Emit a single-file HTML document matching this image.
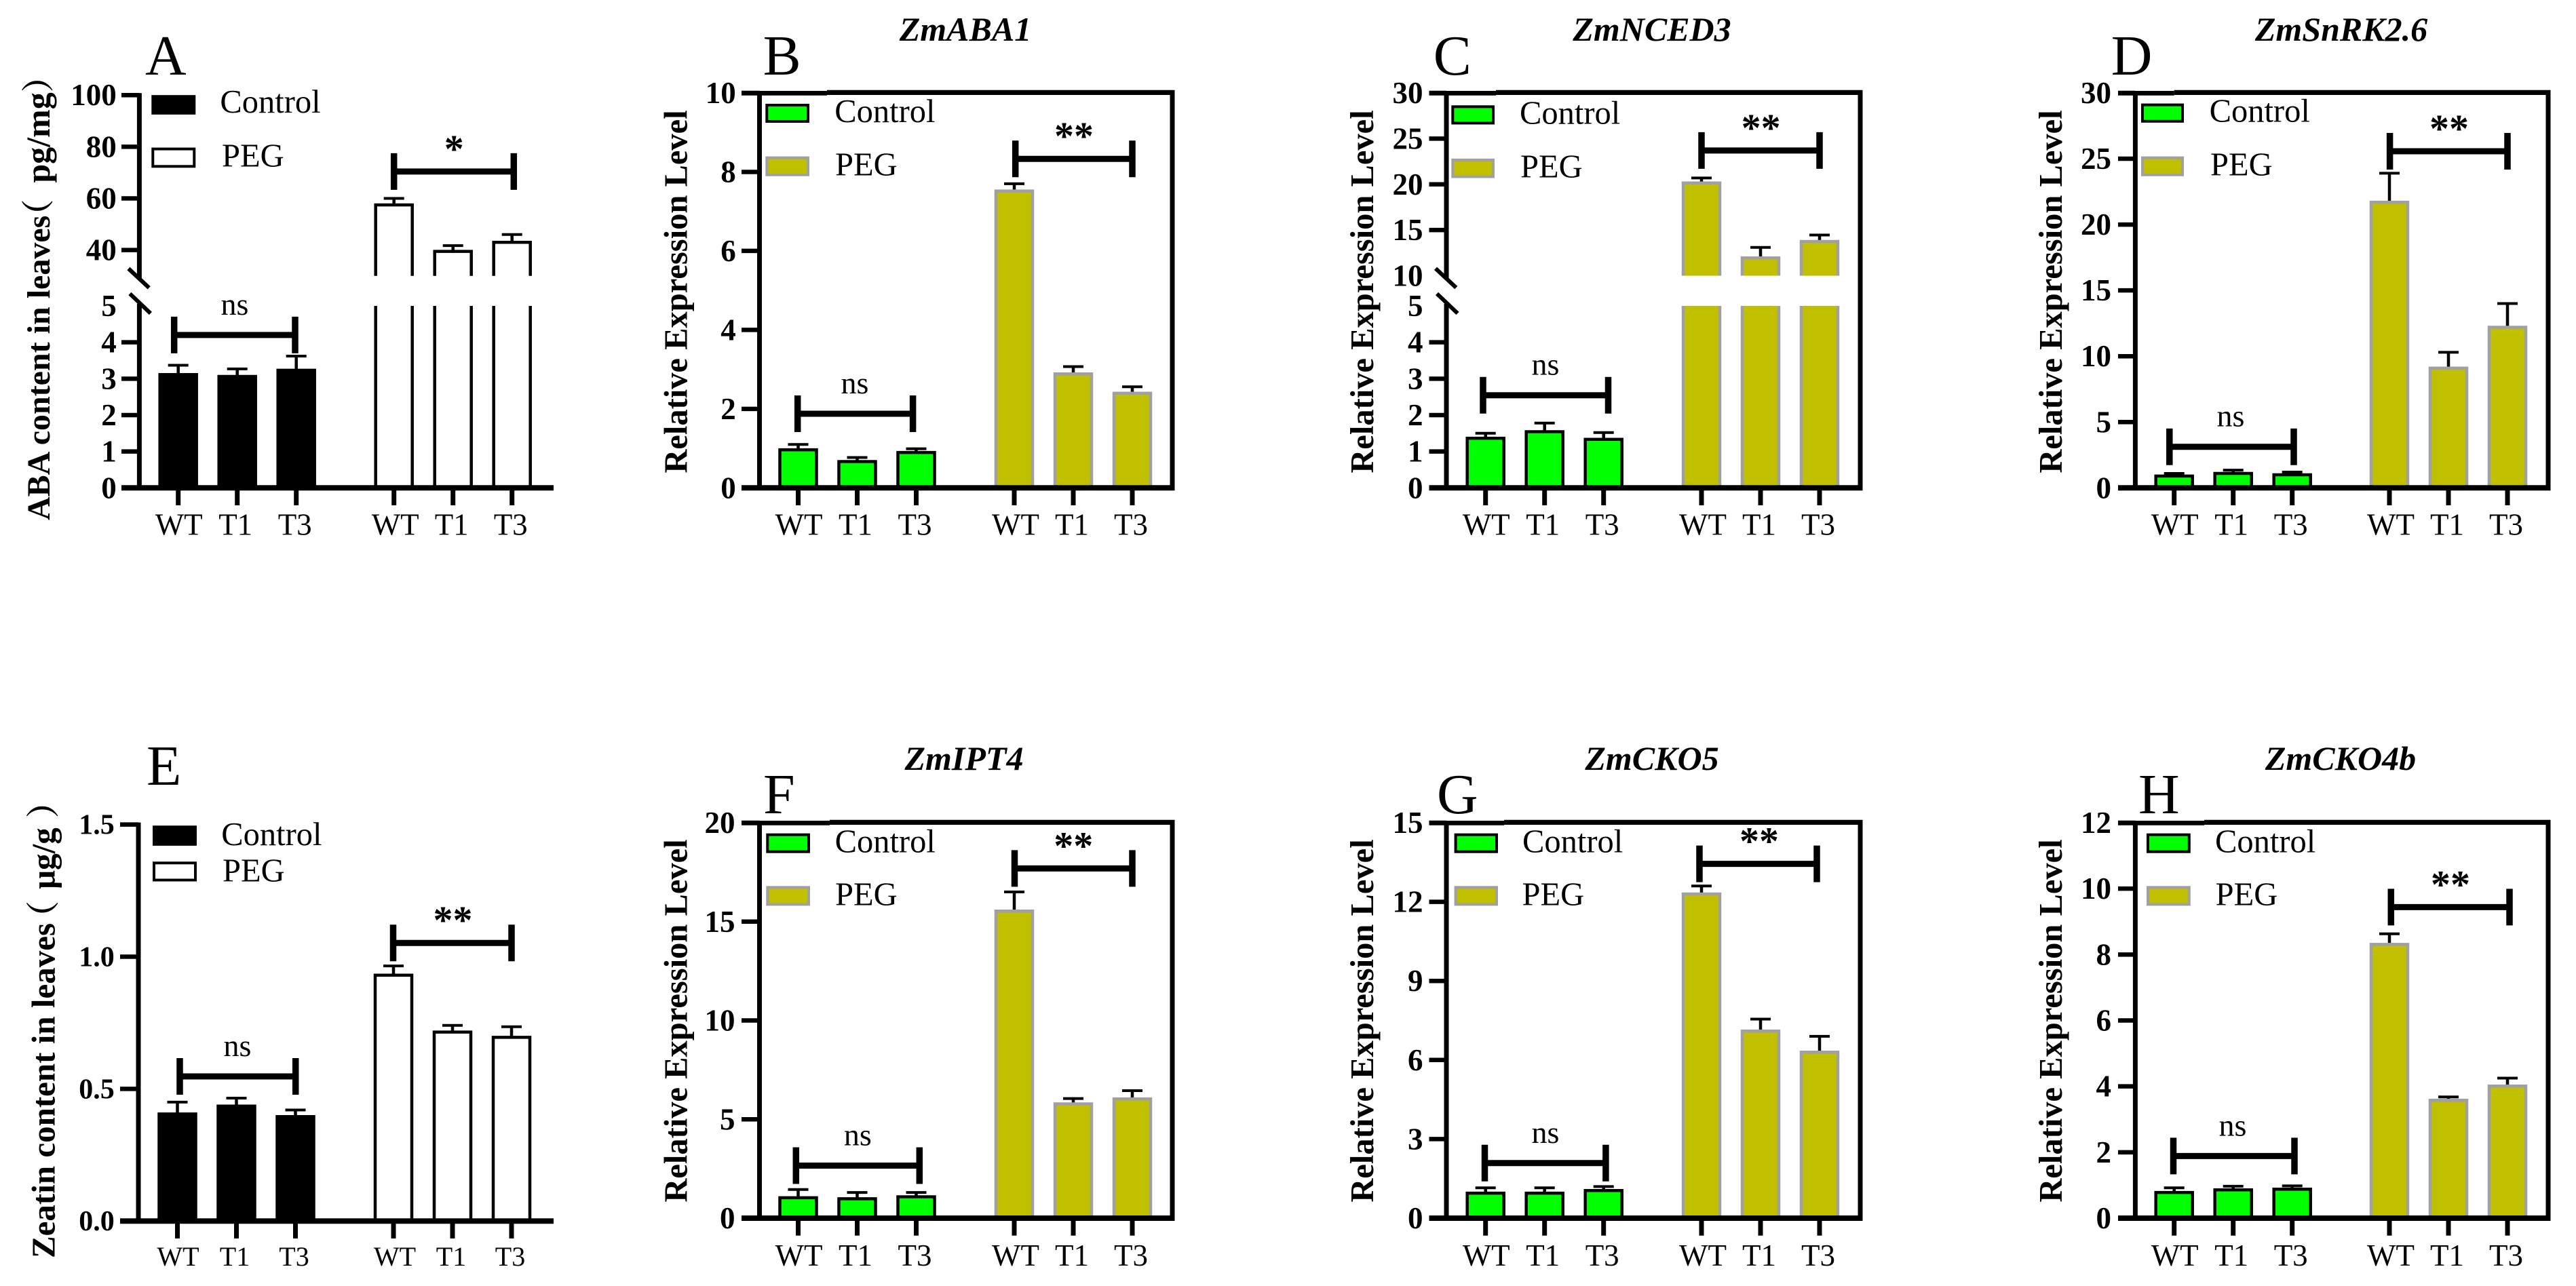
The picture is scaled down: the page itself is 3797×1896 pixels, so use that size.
<!DOCTYPE html>
<html lang="en">
<head>
<meta charset="utf-8">
<title>ABA and zeatin content and gene expression under PEG</title>
<style>
html,body{margin:0;padding:0;background:#fff;}
svg{display:block;}
text{font-family:"Liberation Serif","Noto Serif CJK SC",serif;fill:#000;}
.panel-letter{font-size:84px;}
.gene-title{font-size:50px;font-weight:bold;font-style:italic;text-anchor:middle;}
.y-title{font-size:48.5px;font-weight:bold;text-anchor:middle;}
.y-title-long{font-weight:bold;text-anchor:start;}
.legend-text{font-size:48.5px;}
</style>
</head>
<body>
<svg id="figure" xmlns="http://www.w3.org/2000/svg" width="3797" height="1896" viewBox="0 0 3797 1896">
<rect x="0" y="0" width="3797" height="1896" fill="#fff"/>

<g id="panel-a">
  <text class="panel-letter" x="214" y="110">A</text>
  <text class="y-title-long" font-size="48" transform="translate(72.8,767) rotate(-90)">ABA content in leaves<tspan dx="-24">（</tspan><tspan dx="12"> </tspan><tspan font-size="50">pg/mg</tspan><tspan>）</tspan></text>
  <rect x="225.3" y="142.2" width="61" height="24.7" fill="#000" stroke="#000" stroke-width="4"/>
  <text class="legend-text" x="324.4" y="166">Control</text>
  <rect x="225.3" y="219.6" width="61" height="25.7" fill="#fff" stroke="#000" stroke-width="4"/>
  <text class="legend-text" x="327" y="245.7">PEG</text>
</g>

<g id="panel-b">
  <text class="gene-title" x="1423" y="60">ZmABA1</text>
  <text class="panel-letter" x="1124.6" y="110">B</text>
  <text class="y-title" transform="translate(1012.5,430) rotate(-90)">Relative Expression Level</text>
  <rect x="1130.3" y="155" width="60.7" height="24" fill="#00ff00" stroke="#000" stroke-width="4"/>
  <text class="legend-text" x="1230.3" y="180">Control</text>
  <rect x="1130.3" y="232.6" width="60.7" height="25.2" fill="#c0c000" stroke="#a0a0a0" stroke-width="4"/>
  <text class="legend-text" x="1231" y="258.7">PEG</text>
</g>

<g id="panel-c">
  <text class="gene-title" x="2435" y="60">ZmNCED3</text>
  <text class="panel-letter" x="2112.7" y="110">C</text>
  <text class="y-title" transform="translate(2024,430) rotate(-90)">Relative Expression Level</text>
  <rect x="2141.3" y="157.3" width="59.7" height="24.2" fill="#00ff00" stroke="#000" stroke-width="4"/>
  <text class="legend-text" x="2240" y="182.4">Control</text>
  <rect x="2141.3" y="235.8" width="59.7" height="24.7" fill="#c0c000" stroke="#a0a0a0" stroke-width="4"/>
  <text class="legend-text" x="2241" y="261.4">PEG</text>
</g>

<g id="panel-d">
  <text class="gene-title" x="3451" y="60">ZmSnRK2.6</text>
  <text class="panel-letter" x="3111.7" y="110">D</text>
  <text class="y-title" transform="translate(3039,430) rotate(-90)">Relative Expression Level</text>
  <rect x="3158" y="154.6" width="59" height="24.2" fill="#00ff00" stroke="#000" stroke-width="4"/>
  <text class="legend-text" x="3256.6" y="179.7">Control</text>
  <rect x="3158" y="232.6" width="59" height="25.2" fill="#c0c000" stroke="#a0a0a0" stroke-width="4"/>
  <text class="legend-text" x="3258" y="258.7">PEG</text>
</g>

<g id="panel-e">
  <text class="panel-letter" x="216" y="1157">E</text>
  <text class="y-title-long" font-size="49" transform="translate(80.7,1855) rotate(-90)">Zeatin content in leaves<tspan dx="-16">（</tspan><tspan dx="5"> </tspan><tspan>μg/g</tspan><tspan dx="14">）</tspan></text>
  <rect x="227" y="1219.2" width="61" height="25.7" fill="#000" stroke="#000" stroke-width="4"/>
  <text class="legend-text" x="326.3" y="1245.8">Control</text>
  <rect x="227" y="1272.3" width="61" height="25.2" fill="#fff" stroke="#000" stroke-width="4"/>
  <text class="legend-text" x="328" y="1299.5">PEG</text>
</g>

<g id="panel-f">
  <text class="gene-title" x="1421" y="1135">ZmIPT4</text>
  <text class="panel-letter" x="1125" y="1199">F</text>
  <text class="y-title" transform="translate(1012.5,1505) rotate(-90)">Relative Expression Level</text>
  <rect x="1131.3" y="1230.7" width="60.7" height="25" fill="#00ff00" stroke="#000" stroke-width="4"/>
  <text class="legend-text" x="1230.6" y="1256.7">Control</text>
  <rect x="1131.3" y="1308.3" width="60.7" height="25.1" fill="#c0c000" stroke="#a0a0a0" stroke-width="4"/>
  <text class="legend-text" x="1231" y="1334.4">PEG</text>
</g>

<g id="panel-g">
  <text class="gene-title" x="2435" y="1135">ZmCKO5</text>
  <text class="panel-letter" x="2118" y="1199">G</text>
  <text class="y-title" transform="translate(2024,1505) rotate(-90)">Relative Expression Level</text>
  <rect x="2145.6" y="1230.7" width="60.4" height="25" fill="#00ff00" stroke="#000" stroke-width="4"/>
  <text class="legend-text" x="2244" y="1256.7">Control</text>
  <rect x="2145.6" y="1308.3" width="60.4" height="25.1" fill="#c0c000" stroke="#a0a0a0" stroke-width="4"/>
  <text class="legend-text" x="2243.5" y="1334.4">PEG</text>
</g>

<g id="panel-h">
  <text class="gene-title" x="3450" y="1135">ZmCKO4b</text>
  <text class="panel-letter" x="3152" y="1199">H</text>
  <text class="y-title" transform="translate(3039,1505) rotate(-90)">Relative Expression Level</text>
  <rect x="3166" y="1230.7" width="60.8" height="25" fill="#00ff00" stroke="#000" stroke-width="4"/>
  <text class="legend-text" x="3265" y="1256.7">Control</text>
  <rect x="3166" y="1308.3" width="60.8" height="25.1" fill="#c0c000" stroke="#a0a0a0" stroke-width="4"/>
  <text class="legend-text" x="3265.6" y="1334.4">PEG</text>
</g>
</svg>

<script>
const categories = ['WT', 'T1', 'T3', 'WT', 'T1', 'T3'];

const abaContent = [3.15, 3.1, 3.27, 58, 40, 43.5];
const abaContentErr = [0.22, 0.17, 0.35, 2, 1.7, 2.5];
const abaLowerTicks = ['0', '1', '2', '3', '4', '5'];
const abaUpperTicks = ['40', '60', '80', '100'];

const zmaba1 = [1.0, 0.7, 0.93, 7.55, 2.92, 2.43];
const zmaba1Err = [0.1, 0.07, 0.06, 0.15, 0.15, 0.13];
const zmaba1Ticks = ['0', '2', '4', '6', '8', '10'];

const zmnced3 = [1.4, 1.58, 1.37, 20.3, 12.1, 13.9];
const zmnced3Err = [0.1, 0.2, 0.15, 0.4, 1, 0.55];
const zmnced3LowerTicks = ['0', '1', '2', '3', '4', '5'];
const zmnced3UpperTicks = ['10', '15', '20', '25', '30'];

const zmsnrk26 = [1.0, 1.2, 1.1, 21.8, 9.2, 12.3];
const zmsnrk26Err = [0.1, 0.15, 0.1, 2.1, 1.1, 1.7];
const zmsnrk26Ticks = ['0', '5', '10', '15', '20', '25', '30'];

const zeatinContent = [0.41, 0.44, 0.40, 0.935, 0.72, 0.70];
const zeatinContentErr = [0.04, 0.025, 0.02, 0.03, 0.02, 0.035];
const zeatinTicks = ['0.0', '0.5', '1.0', '1.5'];

const zmipt4 = [1.1, 1.05, 1.15, 15.6, 5.85, 6.1];
const zmipt4Err = [0.35, 0.25, 0.15, 0.9, 0.2, 0.35];
const zmipt4Ticks = ['0', '5', '10', '15', '20'];

const zmcko5 = [1.0, 1.0, 1.1, 12.35, 7.15, 6.35];
const zmcko5Err = [0.15, 0.15, 0.1, 0.25, 0.4, 0.55];
const zmcko5Ticks = ['0', '3', '6', '9', '12', '15'];

const zmcko4b = [0.82, 0.9, 0.92, 8.35, 3.62, 4.05];
const zmcko4bErr = [0.1, 0.07, 0.06, 0.28, 0.06, 0.2];
const zmcko4bTicks = ['0', '2', '4', '6', '8', '10', '12'];

const SVG_NS = 'http://www.w3.org/2000/svg';

function addLine(parent, name, x1, y1, x2, y2, width) {
  const el = document.createElementNS(SVG_NS, 'line');
  
  
  el.setAttribute('x1', x1);
  el.setAttribute('y1', y1);
  el.setAttribute('x2', x2);
  el.setAttribute('y2', y2);
  el.setAttribute('stroke', '#000');
  el.setAttribute('stroke-width', width);
  parent.appendChild(el);
  return el;
}

function addPath(parent, name, d, fill, stroke, width) {
  const el = document.createElementNS(SVG_NS, 'path');
  
  
  el.setAttribute('d', d);
  el.setAttribute('fill', fill);
  el.setAttribute('stroke', stroke);
  el.setAttribute('stroke-width', width);
  parent.appendChild(el);
  return el;
}

function addText(parent, name, str, x, y, size, weight, anchor) {
  const el = document.createElementNS(SVG_NS, 'text');
  
  
  el.setAttribute('x', x);
  el.setAttribute('y', y);
  el.setAttribute('font-size', size);
  el.setAttribute('font-weight', weight);
  el.setAttribute('text-anchor', anchor);
  el.textContent = str;
  parent.appendChild(el);
  return el;
}

/* y axis function: linear, or two linear pieces when the axis is broken */
function makeYScale(s) {
  if (!s.upper) {
    return function (v) {
      return s.lower.r0 + (v - s.lower.d0) / (s.lower.d1 - s.lower.d0) * (s.lower.r1 - s.lower.r0);
    };
  }
  return function (v) {
    const seg = v <= s.lower.d1 ? s.lower : s.upper;
    return seg.r0 + (v - seg.d0) / (seg.d1 - seg.d0) * (seg.r1 - seg.r0);
  };
}

function drawPanel(p) {
  const g = document.getElementById(p.id);
  const y = makeYScale(p.scale);
  const x = function (i) { return i < 3 ? p.c0 + i * p.step : p.c3 + (i - 3) * p.step; };
  const baseY = p.scale.lower.r0;
  const broken = !!p.scale.upper;
  const topY = broken ? p.scale.upper.r1 : p.scale.lower.r1;
  const halfBar = 27;
  const labelNudge = [1, -2.5, -2, 2, -2, -2];

  /* bars and error bars */
  p.values.forEach(function (v, i) {
    const isControl = i < 3;
    const fill = isControl ? p.controlFill : p.pegFill;
    const stroke = isControl ? p.controlStroke : p.pegStroke;
    const cx = x(i);
    const top = y(v);
    const errY = y(v + p.errors[i]);
    const l = cx - halfBar;
    const r = cx + halfBar;
    addLine(g, 'error-bar-stem-' + categories[i].toLowerCase() + '-' + i, cx, top, cx, errY, 4.5);
    addLine(g, 'error-bar-cap-' + categories[i].toLowerCase() + '-' + i, cx - 15, errY, cx + 15, errY, 4);
    if (broken && v > p.scale.lower.d1) {
      addPath(g, 'bar-upper-' + categories[i].toLowerCase() + '-' + i,
        'M' + l + ' ' + p.scale.upper.r0 + 'L' + l + ' ' + (top + 2) + 'L' + r + ' ' + (top + 2) + 'L' + r + ' ' + p.scale.upper.r0,
        fill, stroke, 4.5);
      addPath(g, 'bar-lower-' + categories[i].toLowerCase() + '-' + i,
        'M' + l + ' ' + p.scale.lower.r1 + 'L' + l + ' ' + baseY + 'L' + r + ' ' + baseY + 'L' + r + ' ' + p.scale.lower.r1,
        fill, stroke, 4.5);
    } else {
      addPath(g, 'bar-' + categories[i].toLowerCase() + '-' + i,
        'M' + l + ' ' + baseY + 'L' + l + ' ' + (top + 2) + 'L' + r + ' ' + (top + 2) + 'L' + r + ' ' + baseY,
        fill, stroke, 4.5);
    }
  });

  /* y axis line(s) */
  if (broken) {
    addLine(g, 'y-axis-line-upper', p.axisX, topY - 3, p.axisX, p.scale.upper.r0 + 4, 7);
    addLine(g, 'y-axis-line-lower', p.axisX, p.scale.lower.r1 - 3, p.axisX, baseY, 7);
    addLine(g, 'y-axis-break-mark-upper', p.axisX - 16, p.scale.upper.r0 - 10.7, p.axisX + 14.3, p.scale.upper.r0 + 17.6, 6);
    addLine(g, 'y-axis-break-mark-lower', p.axisX - 14, p.scale.lower.r1 - 18, p.axisX + 16.5, p.scale.lower.r1 + 11, 6);
  } else {
    addLine(g, 'y-axis-line', p.axisX, topY - 3, p.axisX, baseY, 7);
  }

  /* box frame */
  if (p.boxRight) {
    addLine(g, 'frame-top', p.topSegEnd, topY - 0.6, p.boxRight + 3.5, topY - 0.6, 7.2);
    addLine(g, 'frame-right', p.boxRight, topY, p.boxRight, baseY, 7);
    addLine(g, 'frame-top-left-segment', p.tickLeft, topY + 0.4, p.topSegEnd, topY + 0.4, 6.7);
  }

  /* x axis */
  addLine(g, 'x-axis-line', p.tickLeft, baseY, p.boxRight ? p.boxRight + 3.5 : p.xEnd, baseY, 8);

  /* y ticks and labels */
  function drawTicks(ticks, skipVal) {
    ticks.forEach(function (t) {
      const v = parseFloat(t);
      const ty = y(v);
      if (v !== skipVal) {
        addLine(g, 'y-tick-' + t, p.tickLeft, ty, p.axisX, ty, 6.5);
      }
      addText(g, 'y-tick-label-' + t, t, p.labelRight, ty + p.labelDy, p.tickFont, 'bold', 'end');
    });
  }
  if (broken) {
    drawTicks(p.lowerTicks, p.scale.lower.d1);
    drawTicks(p.upperTicks, p.scale.upper.d0);
  } else {
    drawTicks(p.ticks, null);
  }

  /* x ticks and labels */
  categories.forEach(function (c, i) {
    const cx = x(i);
    addLine(g, 'x-tick-' + c.toLowerCase() + '-' + i, cx, baseY, cx, baseY + 25.7, 7);
    addText(g, 'x-tick-label-' + c.toLowerCase() + '-' + i, c, cx + labelNudge[i], p.xLabelY, p.xFont, 'normal', 'middle');
  });

  /* significance brackets */
  p.brackets.forEach(function (b, i) {
    const by = y(b.value);
    addLine(g, 'significance-bar-' + i, b.x1, by, b.x2, by, 9);
    addLine(g, 'significance-end-left-' + i, b.x1, by - 27, b.x1, by + 27, 9.5);
    addLine(g, 'significance-end-right-' + i, b.x2, by - 27, b.x2, by + 27, 9.5);
    if (b.label === 'ns') {
      addText(g, 'significance-label-ns', 'ns', b.lx, by - 30, 46, 'normal', 'middle');
    } else {
      addText(g, 'significance-label-stars', b.label, b.lx, by - 14, 58, 'bold', 'middle');
    }
  });
}

const TOP_BASE = 719.3;
const LOW_BASE = 1796;
const TOP_MAX = 137;
const LOW_MAX = 1213;
const GREEN = '#00ff00';
const OLIVE = '#c0c000';
const GREY = '#a0a0a0';

drawPanel({
  id: 'panel-a', values: abaContent, errors: abaContentErr,
  scale: { lower: { d0: 0, d1: 5, r0: TOP_BASE, r1: 451 }, upper: { d0: 30, d1: 100, r0: 406.7, r1: 140.2 } },
  lowerTicks: abaLowerTicks, upperTicks: abaUpperTicks,
  c0: 262.7, c3: 580.7, step: 87, axisX: 205.4, tickLeft: 179, xEnd: 816,
  labelRight: 171.7, labelDy: 15, tickFont: 45, xFont: 45, xLabelY: 788.7,
  controlFill: '#000', controlStroke: '#000', pegFill: '#fff', pegStroke: '#000',
  brackets: [{ value: 4.2, x1: 256.7, x2: 435, lx: 345.9, label: 'ns' }, { value: 70.4, x1: 580.7, x2: 757.3, lx: 669.3, label: '*' }]
});
drawPanel({
  id: 'panel-b', values: zmaba1, errors: zmaba1Err,
  scale: { lower: { d0: 0, d1: 10, r0: TOP_BASE, r1: TOP_MAX } }, ticks: zmaba1Ticks,
  c0: 1176.5, c3: 1495, step: 87, axisX: 1119.5, boxRight: 1728, tickLeft: 1093, topSegEnd: 1219,
  labelRight: 1084.7, labelDy: 15, tickFont: 45, xFont: 45, xLabelY: 788.7,
  controlFill: GREEN, controlStroke: '#000', pegFill: OLIVE, pegStroke: GREY,
  brackets: [{ value: 1.877, x1: 1175.7, x2: 1345.6, lx: 1260, label: 'ns' }, { value: 8.33, x1: 1496.7, x2: 1669, lx: 1583, label: '**' }]
});
drawPanel({
  id: 'panel-c', values: zmnced3, errors: zmnced3Err,
  scale: { lower: { d0: 0, d1: 5, r0: TOP_BASE, r1: 451 }, upper: { d0: 10, d1: 30, r0: 406.5, r1: TOP_MAX } },
  lowerTicks: zmnced3LowerTicks, upperTicks: zmnced3UpperTicks,
  c0: 2189.7, c3: 2508, step: 87, axisX: 2132, boxRight: 2742, tickLeft: 2106.5, topSegEnd: 2205,
  labelRight: 2097.5, labelDy: 15, tickFont: 45, xFont: 45, xLabelY: 788.7,
  controlFill: GREEN, controlStroke: '#000', pegFill: OLIVE, pegStroke: GREY,
  brackets: [{ value: 2.545, x1: 2186, x2: 2370.5, lx: 2278, label: 'ns' }, { value: 23.7, x1: 2508, x2: 2682, lx: 2595.6, label: '**' }]
});
drawPanel({
  id: 'panel-d', values: zmsnrk26, errors: zmsnrk26Err,
  scale: { lower: { d0: 0, d1: 30, r0: TOP_BASE, r1: TOP_MAX } }, ticks: zmsnrk26Ticks,
  c0: 3204.7, c3: 3522, step: 87, axisX: 3147.4, boxRight: 3756, tickLeft: 3122, topSegEnd: 3204.7,
  labelRight: 3112, labelDy: 15, tickFont: 45, xFont: 45, xLabelY: 788.7,
  controlFill: GREEN, controlStroke: '#000', pegFill: OLIVE, pegStroke: GREY,
  brackets: [{ value: 3.12, x1: 3197.8, x2: 3381, lx: 3288, label: 'ns' }, { value: 25.57, x1: 3522.6, x2: 3696, lx: 3610, label: '**' }]
});
drawPanel({
  id: 'panel-e', values: zeatinContent, errors: zeatinContentErr,
  scale: { lower: { d0: 0, d1: 1.5, r0: 1800.2, r1: 1215.6 } }, ticks: zeatinTicks,
  c0: 261.5, c3: 580, step: 87, axisX: 204, tickLeft: 177, xEnd: 816,
  labelRight: 168.7, labelDy: 14, tickFont: 42, xFont: 40, xLabelY: 1866,
  controlFill: '#000', controlStroke: '#000', pegFill: '#fff', pegStroke: '#000',
  brackets: [{ value: 0.547, x1: 265, x2: 435.7, lx: 350, label: 'ns' }, { value: 1.052, x1: 579.5, x2: 754, lx: 667.5, label: '**' }]
});
drawPanel({
  id: 'panel-f', values: zmipt4, errors: zmipt4Err,
  scale: { lower: { d0: 0, d1: 20, r0: LOW_BASE, r1: LOW_MAX } }, ticks: zmipt4Ticks,
  c0: 1176.5, c3: 1495, step: 87, axisX: 1119.5, boxRight: 1728, tickLeft: 1093, topSegEnd: 1223,
  labelRight: 1083.5, labelDy: 15, tickFont: 45, xFont: 45, xLabelY: 1866,
  controlFill: GREEN, controlStroke: '#000', pegFill: OLIVE, pegStroke: GREY,
  brackets: [{ value: 2.66, x1: 1173.3, x2: 1355.3, lx: 1264.3, label: 'ns' }, { value: 17.69, x1: 1495.5, x2: 1669, lx: 1582.3, label: '**' }]
});
drawPanel({
  id: 'panel-g', values: zmcko5, errors: zmcko5Err,
  scale: { lower: { d0: 0, d1: 15, r0: LOW_BASE, r1: LOW_MAX } }, ticks: zmcko5Ticks,
  c0: 2189.7, c3: 2508, step: 87, axisX: 2132, boxRight: 2742, tickLeft: 2106.5, topSegEnd: 2217,
  labelRight: 2097.5, labelDy: 15, tickFont: 45, xFont: 45, xLabelY: 1866,
  controlFill: GREEN, controlStroke: '#000', pegFill: OLIVE, pegStroke: GREY,
  brackets: [{ value: 2.09, x1: 2188.5, x2: 2366.9, lx: 2278, label: 'ns' }, { value: 13.44, x1: 2505, x2: 2678, lx: 2593, label: '**' }]
});
drawPanel({
  id: 'panel-h', values: zmcko4b, errors: zmcko4bErr,
  scale: { lower: { d0: 0, d1: 12, r0: LOW_BASE, r1: LOW_MAX } }, ticks: zmcko4bTicks,
  c0: 3204.7, c3: 3522, step: 87, axisX: 3147.4, boxRight: 3756, tickLeft: 3122, topSegEnd: 3249,
  labelRight: 3112, labelDy: 15, tickFont: 45, xFont: 45, xLabelY: 1866,
  controlFill: GREEN, controlStroke: '#000', pegFill: OLIVE, pegStroke: GREY,
  brackets: [{ value: 1.887, x1: 3203.5, x2: 3382, lx: 3291, label: 'ns' }, { value: 9.44, x1: 3524.3, x2: 3699, lx: 3612, label: '**' }]
});
</script>
</body>
</html>
